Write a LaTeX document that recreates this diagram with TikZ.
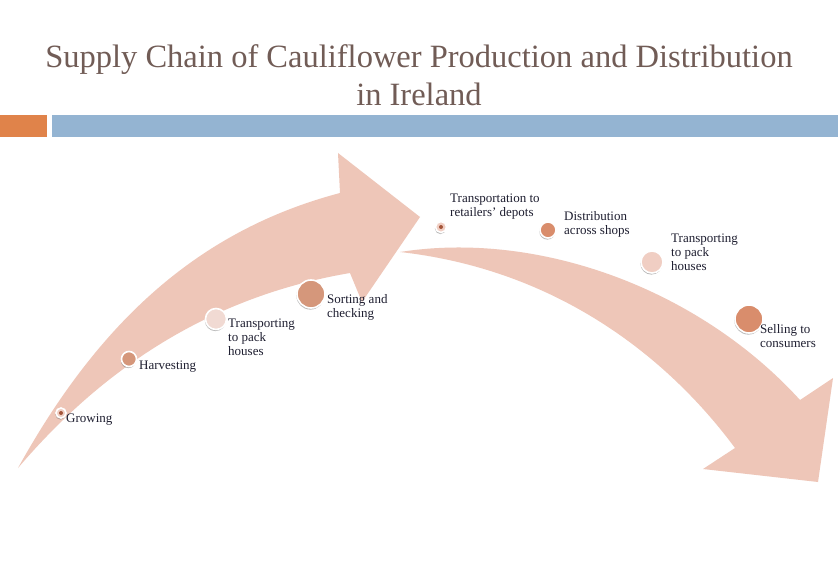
\documentclass[tikz,border=0pt]{standalone}
\usepackage{fontspec}
\setmainfont{Liberation Serif}
\usetikzlibrary{shadows}
\definecolor{ctitle}{HTML}{715C56}
\definecolor{corange}{HTML}{E0834A}
\definecolor{cblue}{HTML}{94B4D2}
\definecolor{carrow}{HTML}{EEC6B8}
\definecolor{ctext}{HTML}{1E1E30}
\definecolor{cdark}{HTML}{A4553A}
\definecolor{cmid}{HTML}{D5977B}
\definecolor{cdeep}{HTML}{D98D6C}
\definecolor{cpale}{HTML}{F1DAD3}
\definecolor{crose}{HTML}{F0CEC3}
\tikzset{
  every picture/.style={x=1pt, y=-1pt},
  stagedot/.style={circle, fill=#1, draw=white, line width=1.6pt, inner sep=0pt,
    drop shadow={shadow xshift=-0.6pt, shadow yshift=-1.6pt, opacity=0.5, fill=black!55}},
  core/.style={circle, fill=cdark, inner sep=0pt, minimum size=4pt},
  stagetext/.style={font=\fontsize{13}{13.8}\selectfont, text=ctext, align=left, inner sep=0pt, anchor=north west},
  title/.style={font=\fontsize{32.5}{38}\selectfont, text=ctitle, align=center, inner sep=0pt},
  band/.style={fill=carrow},
}

\begin{document}
\begin{tikzpicture}
  \useasboundingbox[fill=white] (0,0) rectangle (838,575);
  % title and bars
  \node[title, anchor=north] (title) at (419,44) {Supply Chain of Cauliflower Production and Distribution\\in Ireland};
  \fill[corange] (0,115) rectangle (47,137);
  \fill[cblue] (52,115) rectangle (838,137);
  % rising arrow
  \fill[band] (18,468) .. controls (100,320) and (200,230) .. (340,193) -- (338,153) -- (420,217)
    -- (362,302) -- (350,273) .. controls (220,295) and (110,360) .. (18,468) -- cycle;
  % falling arrow
  \fill[band] (400,252) .. controls (540,230) and (700,290) .. (800,400) -- (833,378) -- (818,482)
    -- (703,469) -- (735,448) .. controls (670,360) and (560,270) .. (400,252) -- cycle;
  % stage dots
  \foreach \n/\x/\y/\s/\c in {grow/61/413/10/crose, harv/129/359/15/cmid, packa/216/319/21/cpale,
      sort/311/294/28/cmid, depot/441/227/11/crose, shop/548/230/16/cdeep, packb/652/262/22/crose,
      sell/749/319/28/cdeep}
    \node[stagedot=\c, minimum size=\s pt] (\n) at (\x,\y) {};
  \node[core] (growcore) at (grow) {};
  \node[core] (depotcore) at (depot) {};
  % stage texts
  \node[stagetext] (tgrow) at (66,414) {Growing};
  \node[stagetext] (tharv) at (139,361) {Harvesting};
  \node[stagetext] (tpacka) at (228,319) {Transporting\\to pack\\houses};
  \node[stagetext] (tsort) at (327,294) {Sorting and\\checking};
  \node[stagetext] (tdepot) at (450,194) {Transportation to\\retailers' depots};
  \node[stagetext] (tshop) at (564,211) {Distribution\\across shops};
  \node[stagetext] (tpackb) at (671,234) {Transporting\\to pack\\houses};
  \node[stagetext] (tsell) at (760,324) {Selling to\\consumers};
\end{tikzpicture}
\end{document}
